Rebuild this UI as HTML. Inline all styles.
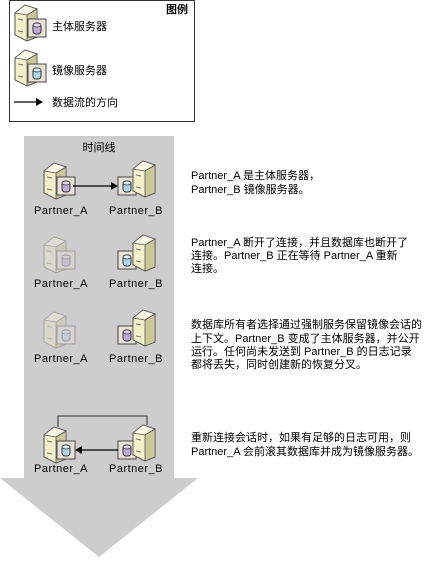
<!DOCTYPE html>
<html><head><meta charset="utf-8"><style>
body{margin:0;background:#fff;width:426px;height:558px;overflow:hidden}
svg text{font-family:"Liberation Sans","Noto Sans CJK SC",sans-serif;font-size:11px;fill:#000}
svg text.lb{font-size:11px;letter-spacing:0.5px}
</style></head><body>
<svg width="426" height="558" viewBox="0 0 426 558" xmlns="http://www.w3.org/2000/svg">
<defs>
<g id="tower">
<polygon points="0,8 10,0 22,4 22,32 12,36 0,30" fill="#f3efc9" stroke="#555" stroke-width="1"/>
<polygon points="0,8 10,0 22,4 12,10" fill="#fbf9e6" stroke="#555" stroke-width="0.8"/>
<polygon points="12,10 22,4 22,32 12,36" fill="#ccc797" stroke="#555" stroke-width="0.8"/>
<line x1="3" y1="14" x2="8" y2="15" stroke="#777"/>
<line x1="3" y1="26" x2="8" y2="27" stroke="#777"/>
</g>
<g id="boxP">
<rect x="0" y="0" width="18" height="18" fill="#e9e3d6" stroke="#444"/>
<rect x="5" y="4" width="8" height="11" rx="3" fill="#c2a8e0" stroke="#333"/>
<ellipse cx="9" cy="6" rx="4" ry="2" fill="#e0d0f2" stroke="#333" stroke-width="0.7"/>
</g>
<g id="boxM">
<rect x="0" y="0" width="18" height="18" fill="#e9e3d6" stroke="#444"/>
<rect x="5" y="4" width="8" height="11" rx="3" fill="#a8d8f0" stroke="#333"/>
<ellipse cx="9" cy="6" rx="4" ry="2" fill="#d6eef9" stroke="#333" stroke-width="0.7"/>
</g>
</defs>
<rect x="9.5" y="0.5" width="185" height="121" fill="#fff" stroke="#333"/>
<text x="188" y="13" text-anchor="end" font-weight="bold">图例</text>
<use href="#tower" x="15" y="5"/><use href="#boxP" x="28" y="19"/>
<text x="52" y="30">主体服务器</text>
<use href="#tower" x="15" y="50"/><use href="#boxM" x="28" y="64"/>
<text x="52" y="74">镜像服务器</text>
<line x1="14" y1="102" x2="38" y2="102" stroke="#000" stroke-width="1.3"/>
<polygon points="36,98 43,102 36,106" fill="#000"/>
<text x="52" y="106">数据流的方向</text>
<polygon points="24,136 174,136 174,478 198,478 99,557 0,478 24,478" fill="#cdcdcd"/>
<text x="99" y="151" text-anchor="middle">时间线</text>
<use href="#tower" x="44" y="163"/><use href="#boxP" x="57" y="177"/>
<use href="#boxM" x="118" y="177"/><use href="#tower" x="133" y="161"/>
<line x1="73" y1="186" x2="112" y2="186" stroke="#000" stroke-width="1.3"/>
<polygon points="111,182 118,186 111,190" fill="#000"/>
<text class="lb" x="61" y="214" text-anchor="middle">Partner_A</text>
<text class="lb" x="136" y="214" text-anchor="middle">Partner_B</text>
<g opacity="0.35"><use href="#tower" x="44" y="237"/><use href="#boxP" x="57" y="251"/></g>
<use href="#boxM" x="118" y="251"/><use href="#tower" x="133" y="235"/>
<text class="lb" x="61" y="287" text-anchor="middle">Partner_A</text>
<text class="lb" x="136" y="287" text-anchor="middle">Partner_B</text>
<g opacity="0.35"><use href="#tower" x="44" y="312"/><use href="#boxM" x="57" y="326"/></g>
<use href="#boxP" x="118" y="326"/><use href="#tower" x="133" y="310"/>
<text class="lb" x="61" y="362" text-anchor="middle">Partner_A</text>
<text class="lb" x="136" y="362" text-anchor="middle">Partner_B</text>
<polyline points="58,427 58,416 147,416 147,425" fill="none" stroke="#333"/>
<use href="#tower" x="44" y="427"/><use href="#boxM" x="57" y="441"/>
<use href="#boxP" x="118" y="441"/><use href="#tower" x="133" y="425"/>
<line x1="81" y1="450" x2="118" y2="450" stroke="#000" stroke-width="1.3"/>
<polygon points="82,446 75,450 82,454" fill="#000"/>
<text class="lb" x="61" y="472" text-anchor="middle">Partner_A</text>
<text class="lb" x="136" y="472" text-anchor="middle">Partner_B</text>
<text x="191" y="179">Partner_A 是主体服务器，</text>
<text x="191" y="193">Partner_B 镜像服务器。</text>
<text x="191" y="246">Partner_A 断开了连接，并且数据库也断开了</text>
<text x="191" y="259">连接。Partner_B 正在等待 Partner_A 重新</text>
<text x="191" y="272">连接。</text>
<text x="191" y="328">数据库所有者选择通过强制服务保留镜像会话的</text>
<text x="191" y="342">上下文。Partner_B 变成了主体服务器，并公开</text>
<text x="191" y="355">运行。任何尚未发送到 Partner_B 的日志记录</text>
<text x="191" y="368">都将丢失，同时创建新的恢复分叉。</text>
<text x="191" y="441">重新连接会话时，如果有足够的日志可用，则</text>
<text x="191" y="455">Partner_A 会前滚其数据库并成为镜像服务器。</text>
</svg>
</body></html>
